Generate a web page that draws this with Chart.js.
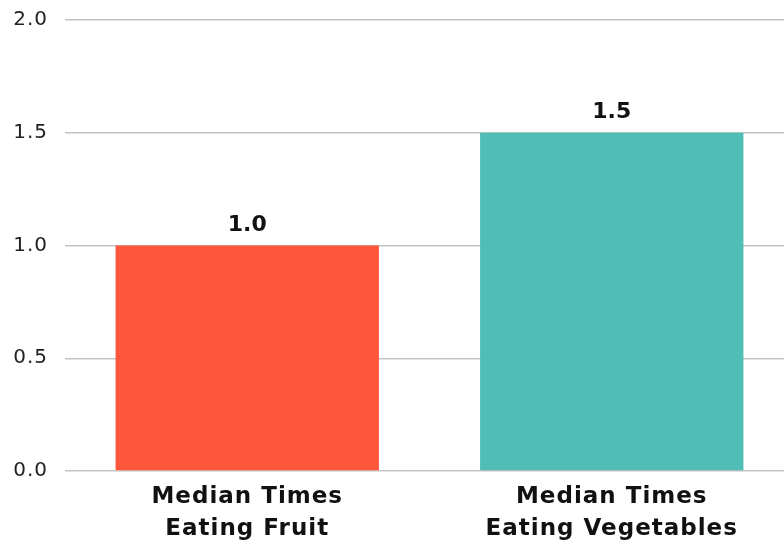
<!DOCTYPE html>
<html>
<head>
<meta charset="utf-8">
<script src="https://cdn.jsdelivr.net/npm/chart.js@4.4.1/dist/chart.umd.min.js"></script>
<style>
  html, body { margin: 0; padding: 0; background: #ffffff; overflow: hidden; }
  #wrap { width: 794px; height: 556px; margin-top: -9px; }
  canvas { display: block; }
</style>
</head>
<body>
<div id="wrap"><canvas id="chart" width="794" height="556"></canvas></div>
<script>
// Median number of times per day
const categories = [['Median Times', 'Eating Fruit'], ['Median Times', 'Eating Vegetables']];
const medianValues = [1.0, 1.5];
const barColors = ['#FF573B', '#50BDB7'];
const yTicks = [0, 0.5, 1.0, 1.5, 2.0];

const FONT = '"DejaVu Sans", sans-serif';

// Slightly wider letter spacing for all chart text
const spacing = {
  id: 'spacing',
  beforeDraw(chart) { chart.ctx.letterSpacing = '1px'; }
};

// Prints each bar's value just above it
const valueLabels = {
  id: 'valueLabels',
  afterDatasetsDraw(chart) {
    const ctx = chart.ctx;
    const meta = chart.getDatasetMeta(0);
    ctx.save();
    ctx.font = 'bold 22px ' + FONT;
    ctx.letterSpacing = '0px';
    ctx.fillStyle = '#111111';
    ctx.textAlign = 'center';
    ctx.textBaseline = 'alphabetic';
    meta.data.forEach((bar, i) => {
      ctx.fillText(medianValues[i].toFixed(1), bar.x, bar.y - 15);
    });
    ctx.restore();
  }
};

new Chart(document.getElementById('chart'), {
  type: 'bar',
  data: {
    labels: categories,
    datasets: [{
      data: medianValues,
      backgroundColor: barColors,
      borderWidth: 0,
      categoryPercentage: 1.0,
      barPercentage: 0.7225
    }]
  },
  options: {
    responsive: false,
    animation: false,
    devicePixelRatio: 1,
    layout: { padding: { top: 1, left: 0, right: 0, bottom: 0 } },
    plugins: {
      legend: { display: false },
      tooltip: { enabled: false }
    },
    scales: {
      y: {
        min: 0,
        max: 2,
        afterBuildTicks(scale) { scale.ticks = yTicks.map(v => ({ value: v })); },
        afterFit(scale) { scale.width = 65; },
        border: { display: false },
        grid: { color: '#c4c4c4', lineWidth: 1.5, drawTicks: false },
        ticks: {
          padding: 17,
          color: '#222222',
          font: { family: FONT, size: 20 },
          callback: v => Number(v).toFixed(1)
        }
      },
      x: {
        afterFit(scale) { scale.height = 76; },
        border: { display: false },
        grid: { display: false, drawTicks: false },
        ticks: {
          padding: 10,
          color: '#111111',
          maxRotation: 0,
          font: { family: FONT, size: 23, weight: 'bold', lineHeight: 1.4 }
        }
      }
    }
  },
  plugins: [spacing, valueLabels]
});
</script>
</body>
</html>
